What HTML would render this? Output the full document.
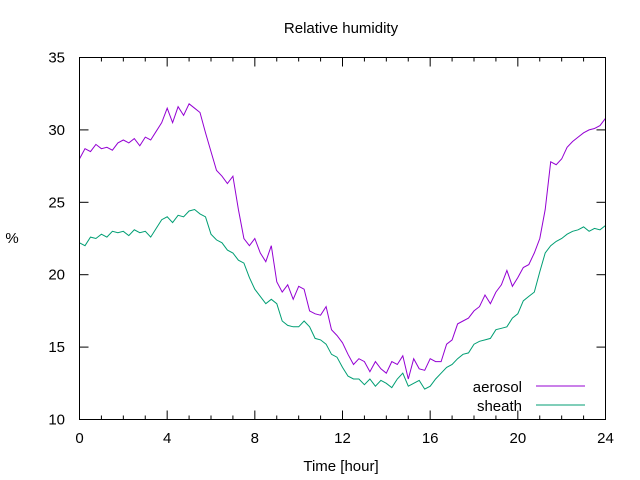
<!DOCTYPE html>
<html><head><meta charset="utf-8"><style>
body{margin:0;background:#fff;}
svg{display:block;font-family:"Liberation Sans",sans-serif;}
</style></head><body>
<svg id="chart" width="640" height="480" viewBox="0 0 640 480">
<rect width="640" height="480" fill="#fff"/>
<text x="341" y="33" font-size="15" text-anchor="middle">Relative humidity</text>
<text x="341" y="471" font-size="15" text-anchor="middle">Time [hour]</text>
<text x="12" y="243" font-size="15" text-anchor="middle">%</text>
<g id="axes"></g>
<g id="series"></g>
<rect x="79.5" y="57.5" width="526" height="362" fill="none" stroke="#000" stroke-width="1"/>
<g>
<text x="522" y="392" font-size="15" text-anchor="end">aerosol</text>
<line x1="536" y1="386" x2="585" y2="386" stroke="#9400d3" stroke-width="1"/>
<text x="522" y="411" font-size="15" text-anchor="end">sheath</text>
<line x1="536" y1="405" x2="585" y2="405" stroke="#009e73" stroke-width="1"/>
</g>
</svg>
<script>
const xTicks=[0,4,8,12,16,20,24];
const yTicks=[10,15,20,25,30,35];
const times=[];for(let i=0;i<=96;i++)times.push(i*0.25);
const aerosol=[28.0,28.7,28.5,29.0,28.7,28.8,28.6,29.1,29.3,29.1,29.4,28.9,29.5,29.3,29.9,30.5,31.5,30.5,31.6,31.0,31.8,31.5,31.2,29.8,28.5,27.2,26.8,26.3,26.8,24.5,22.5,22.0,22.5,21.5,20.9,22.0,19.5,18.8,19.3,18.3,19.2,19.0,17.5,17.3,17.2,17.8,16.2,15.8,15.3,14.5,13.8,14.2,14.0,13.3,14.0,13.5,13.2,14.0,13.8,14.4,12.8,14.2,13.5,13.4,14.2,14.0,14.0,15.2,15.5,16.6,16.8,17.0,17.5,17.8,18.6,18.0,18.8,19.3,20.3,19.2,19.8,20.5,20.7,21.5,22.5,24.5,27.8,27.6,28.0,28.8,29.2,29.5,29.8,30.0,30.1,30.3,30.8];
const sheath=[22.2,22.0,22.6,22.5,22.8,22.6,23.0,22.9,23.0,22.7,23.1,22.9,23.0,22.6,23.2,23.8,24.0,23.6,24.1,24.0,24.4,24.5,24.2,24.0,22.8,22.4,22.2,21.7,21.5,21.0,20.8,19.8,19.0,18.5,18.0,18.3,18.0,16.8,16.5,16.4,16.4,16.8,16.4,15.6,15.5,15.2,14.5,14.3,13.6,13.0,12.8,12.8,12.4,12.8,12.3,12.7,12.5,12.2,12.8,13.2,12.3,12.5,12.7,12.1,12.3,12.8,13.2,13.6,13.8,14.2,14.5,14.6,15.2,15.4,15.5,15.6,16.2,16.3,16.4,17.0,17.3,18.2,18.5,18.8,20.2,21.5,22.0,22.3,22.5,22.8,23.0,23.1,23.3,23.0,23.2,23.1,23.4];
const X0=79.5,X1=605.5,Y0=419.5,Y1=57.5;
const sx=v=>X0+(v-0)/(24-0)*(X1-X0);
const sy=v=>Y0-(v-10)/(35-10)*(Y0-Y1);
const NS="http://www.w3.org/2000/svg";
const axes=document.getElementById('axes');
function mk(tag,attrs,parent){const e=document.createElementNS(NS,tag);for(const k in attrs)e.setAttribute(k,attrs[k]);parent.appendChild(e);return e;}
for(let h=0;h<=24;h++){
  const len=(h%4===0)?9:4;const x=sx(h);
  const t1=mk('line',{x1:x,y1:Y0,x2:x,y2:Y0-len,stroke:'#000'},axes);
  
  
  const t2=mk('line',{x1:x,y1:Y1,x2:x,y2:Y1+len,stroke:'#000'},axes);
  
  
}
xTicks.forEach(v=>{
  const t=mk('text',{x:sx(v),y:443,'font-size':15,'text-anchor':'middle'},axes);t.textContent=v;
  
  
});
yTicks.forEach(v=>{
  const y=sy(v);
  const a=mk('line',{x1:X0,y1:y,x2:X0+9,y2:y,stroke:'#000'},axes);
  
  
  const b=mk('line',{x1:X1,y1:y,x2:X1-9,y2:y,stroke:'#000'},axes);
  
  
  const t=mk('text',{x:65,y:y+5,'font-size':15,'text-anchor':'end'},axes);t.textContent=v;
  
  
});
const ser=document.getElementById('series');
function line(vals,color,name){
  const d=vals.map((v,i)=>(i?'L':'M')+sx(times[i]).toFixed(1)+','+sy(v).toFixed(1)).join('');
  const p=mk('path',{d:d,fill:'none',stroke:color,'stroke-width':1},ser);
  
  
}
line(aerosol,'#9400d3','aerosol-line');
line(sheath,'#009e73','sheath-line');
</script>
</body></html>
